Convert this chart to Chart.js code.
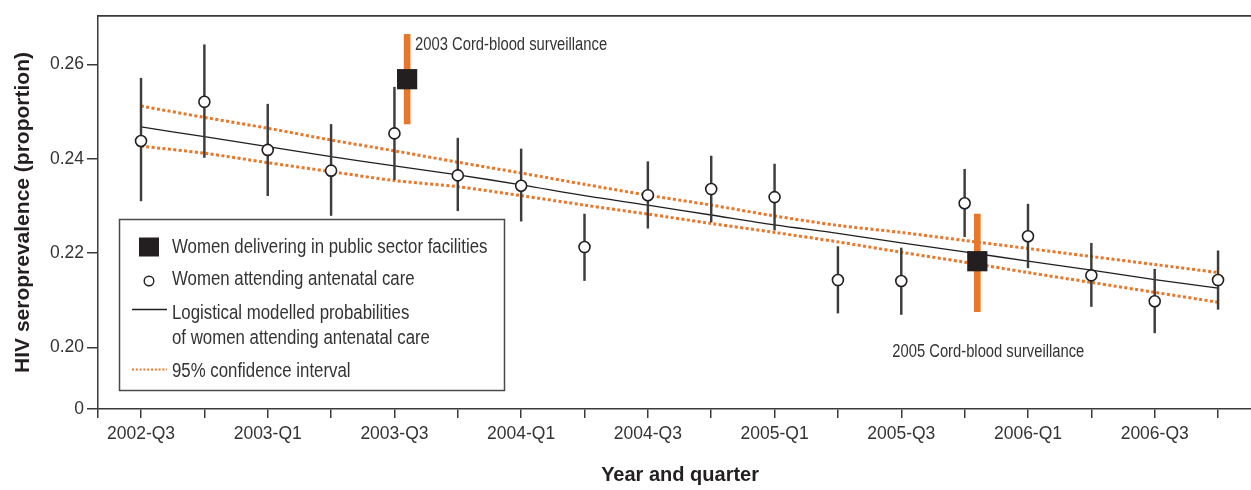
<!DOCTYPE html>
<html>
<head>
<meta charset="utf-8">
<script src="https://cdn.jsdelivr.net/npm/chart.js@4.4.1/dist/chart.umd.min.js"></script>
<style>
  html, body { margin: 0; padding: 0; background: #ffffff; }
  canvas { display: block; }
</style>
</head>
<body>
<canvas id="chart" width="1251" height="490"></canvas>
<script>
// ---------------- data ----------------
const quarters = [
  '2002-Q3', '2002-Q4',
  '2003-Q1', '2003-Q2', '2003-Q3', '2003-Q4',
  '2004-Q1', '2004-Q2', '2004-Q3', '2004-Q4',
  '2005-Q1', '2005-Q2', '2005-Q3', '2005-Q4',
  '2006-Q1', '2006-Q2', '2006-Q3', '2006-Q4'
];
// Women attending antenatal care (point estimate, lower and upper bounds)
const ancValues = [0.2438, 0.2521, 0.2419, 0.2375, 0.2454, 0.2365, 0.2343, 0.2213, 0.2323,
                   0.2336, 0.2319, 0.2143, 0.2141, 0.2306, 0.2236, 0.2153, 0.2098, 0.2143];
const ancLow    = [0.2311, 0.2403, 0.2322, 0.2280, 0.2356, 0.2290, 0.2268, 0.2142, 0.2253,
                   0.2266, 0.2249, 0.2073, 0.2070, 0.2235, 0.2169, 0.2087, 0.2031, 0.2081];
const ancHigh   = [0.2571, 0.2642, 0.2516, 0.2473, 0.2552, 0.2444, 0.2421, 0.2283, 0.2394,
                   0.2406, 0.2389, 0.2214, 0.2211, 0.2378, 0.2304, 0.2221, 0.2166, 0.2205];
// Logistical modelled probabilities and 95% confidence interval
const modelValues = [0.2468, 0.2447, 0.2426, 0.2405, 0.2385, 0.2366, 0.2345, 0.2322, 0.2302,
                     0.2281, 0.2260, 0.2242, 0.2222, 0.2203, 0.2183, 0.2164, 0.2144, 0.2126];
const ciUpper = [0.2512, 0.2488, 0.2465, 0.2440, 0.2417, 0.2393, 0.2370, 0.2346, 0.2323,
                 0.2302, 0.2279, 0.2259, 0.2244, 0.2227, 0.2210, 0.2193, 0.2176, 0.2159];
const ciLower = [0.2427, 0.2412, 0.2392, 0.2373, 0.2354, 0.2341, 0.2322, 0.2302, 0.2283,
                 0.2263, 0.2244, 0.2224, 0.2202, 0.2181, 0.2159, 0.2138, 0.2117, 0.2096];
// Women delivering in public sector facilities (cord-blood surveillance)
const cordPositions = [4.2, 13.2];          // in quarter units from 2002-Q3
const cordValues = [0.2569, 0.2183];
const cordLow    = [0.2474, 0.2076];
const cordHigh   = [0.2664, 0.2283];
const cordLabels = ['2003 Cord-blood surveillance', '2005 Cord-blood surveillance'];
// Axis
const yTickValues = [0.20, 0.22, 0.24, 0.26];
const yBreakValue = 0.18696;   // broken axis: bottom of axis labelled "0"
const yMaxValue = 0.2703;
const xMinValue = -0.679;
const xMaxValue = 17.52;

// ---------------- style ----------------
const ORANGE = '#e8772a';
const DARK = '#231f20';
const AXIS = '#3a3a3a';
const TEXT = '#333333';
const SANS = "'Liberation Sans', Arial, sans-serif";
const CONDENSE = 0.82;   // horizontal squeeze to imitate the condensed face

const pts = (arr) => arr.map((v, i) => ({ x: i, y: v }));

const datasets = [
  {
    type: 'scatter', label: 'Women attending antenatal care',
    data: pts(ancValues),
    pointStyle: 'circle', pointRadius: 5.5, pointHoverRadius: 5.5,
    pointBackgroundColor: '#ffffff', pointBorderColor: DARK, pointBorderWidth: 1.6,
    showLine: false, order: 0
  },
  {
    type: 'scatter', label: 'Women delivering in public sector facilities',
    data: cordPositions.map((x, i) => ({ x: x, y: cordValues[i] })),
    pointStyle: 'rect', pointRadius: 14.3, pointHoverRadius: 14.3,
    pointBackgroundColor: DARK, pointBorderColor: DARK, pointBorderWidth: 0,
    showLine: false, order: 1
  },
  {
    type: 'bar', label: 'Cord-blood range',
    data: cordPositions.map((x, i) => ({ x: x, y: [cordLow[i], cordHigh[i]] })),
    backgroundColor: ORANGE, barThickness: 6, grouped: false, order: 2
  },
  {
    type: 'bar', label: 'ANC range',
    data: ancLow.map((lo, i) => ({ x: i, y: [lo, ancHigh[i]] })),
    backgroundColor: '#3d3d3d', barThickness: 1.8, grouped: false, order: 3
  },
  {
    type: 'line', label: 'Logistical modelled probabilities of women attending antenatal care',
    data: pts(modelValues),
    borderColor: DARK, borderWidth: 1.3, pointRadius: 0, tension: 0.3, order: 4
  },
  {
    type: 'line', label: '95% confidence interval',
    data: pts(ciUpper),
    borderColor: ORANGE, borderWidth: 3, borderDash: [3, 2.4], pointRadius: 0, tension: 0.3, order: 5
  },
  {
    type: 'line', label: '95% confidence interval (lower)',
    data: pts(ciLower),
    borderColor: ORANGE, borderWidth: 3, borderDash: [3, 2.4], pointRadius: 0, tension: 0.3, order: 5
  }
];

function condensedText(ctx, text, x, y) {
  ctx.save();
  ctx.translate(x, y);
  ctx.scale(CONDENSE, 1);
  ctx.fillText(text, 0, 0);
  ctx.restore();
}

// annotations and boxed legend
const overlayPlugin = {
  id: 'overlay',
  afterDatasetsDraw(chart) {
    const ctx = chart.ctx;
    const xs = chart.scales.x, ys = chart.scales.y;
    ctx.save();
    ctx.fillStyle = TEXT;
    ctx.font = '18px ' + SANS;
    ctx.textBaseline = 'alphabetic';
    ctx.textAlign = 'left';
    // 2003 label: beside top of orange bar
    let px = xs.getPixelForValue(cordPositions[0]);
    let py = ys.getPixelForValue(cordHigh[0]);
    condensedText(ctx, cordLabels[0], px + 8, py + 16);
    // 2005 label: below the orange bar
    px = xs.getPixelForValue(cordPositions[1]);
    py = ys.getPixelForValue(cordLow[1]);
    condensedText(ctx, cordLabels[1], px - 85, py + 45);
    ctx.restore();
  },
  afterDraw(chart) {
    const ctx = chart.ctx;
    const ds = chart.data.datasets;
    const bx = 119, by = 219, bw = 385, bh = 171;
    ctx.save();
    ctx.fillStyle = '#ffffff';
    ctx.fillRect(bx, by, bw, bh);
    ctx.strokeStyle = '#4a4a4a';
    ctx.lineWidth = 1.5;
    ctx.strokeRect(bx + 0.5, by + 0.5, bw, bh);

    const tx = 172;
    ctx.font = '20.5px ' + SANS;
    ctx.textAlign = 'left';
    ctx.textBaseline = 'alphabetic';

    // square
    ctx.fillStyle = ds[1].pointBackgroundColor;
    ctx.fillRect(139, 237.5, 20, 19);
    ctx.fillStyle = TEXT;
    condensedText(ctx, ds[1].label, tx, 253);

    // circle
    ctx.beginPath();
    ctx.arc(149, 281, 4.8, 0, Math.PI * 2);
    ctx.fillStyle = '#ffffff';
    ctx.fill();
    ctx.strokeStyle = ds[0].pointBorderColor;
    ctx.lineWidth = 1.4;
    ctx.stroke();
    ctx.fillStyle = TEXT;
    condensedText(ctx, ds[0].label, tx, 284.5);

    // solid line
    ctx.beginPath();
    ctx.moveTo(132, 309.5);
    ctx.lineTo(167, 309.5);
    ctx.strokeStyle = ds[4].borderColor;
    ctx.lineWidth = 1.3;
    ctx.stroke();
    condensedText(ctx, 'Logistical modelled probabilities', tx, 319);
    condensedText(ctx, 'of women attending antenatal care', tx, 343.5);

    // dotted line
    ctx.beginPath();
    ctx.setLineDash([2, 1.8]);
    ctx.moveTo(132, 369.5);
    ctx.lineTo(167, 369.5);
    ctx.strokeStyle = ds[5].borderColor;
    ctx.lineWidth = 2;
    ctx.stroke();
    ctx.setLineDash([]);
    condensedText(ctx, ds[5].label, tx, 377);
    ctx.restore();
  }
};

new Chart(document.getElementById('chart'), {
  type: 'line',
  data: { datasets: datasets },
  plugins: [overlayPlugin],
  options: {
    responsive: false,
    animation: false,
    devicePixelRatio: 1,
    layout: { autoPadding: false, padding: { top: 16, left: 0, right: 0, bottom: 0 } },
    plugins: {
      legend: { display: false },
      tooltip: { enabled: false }
    },
    scales: {
      x: {
        type: 'linear', position: 'bottom',
        min: xMinValue, max: xMaxValue,
        offset: false,
        afterBuildTicks: (s) => {
          const t = [{ value: xMinValue }];
          quarters.forEach((q, i) => t.push({ value: i }));
          s.ticks = t;
        },
        afterFit: (s) => { s.height = 81; },
        ticks: {
          autoSkip: false, maxRotation: 0, minRotation: 0, padding: 6,
          color: TEXT, font: { family: SANS, size: 17.5 },
          callback: (v) => (Number.isInteger(v) && v % 2 === 0) ? quarters[v] : ''
        },
        grid: { display: true, drawOnChartArea: false, drawTicks: true, tickLength: 9,
                color: AXIS, lineWidth: 1.5, offset: false },
        border: { display: true, color: AXIS, width: 1.5 },
        title: {
          display: true, text: '\u00a0\u00a0Year and quarter', color: DARK,
          font: { family: SANS, size: 20, weight: 'bold' },
          padding: { top: 0, bottom: 3 }
        }
      },
      xTop: {
        type: 'linear', position: 'top',
        min: xMinValue, max: xMaxValue,
        afterFit: (s) => { s.height = 0; },
        ticks: { display: false },
        grid: { display: false, drawTicks: false },
        border: { display: true, color: AXIS, width: 1.8 }
      },
      y: {
        type: 'linear', position: 'left',
        min: yBreakValue, max: yMaxValue,
        afterBuildTicks: (s) => {
          s.ticks = [yBreakValue].concat(yTickValues).map(v => ({ value: v }));
        },
        afterFit: (s) => { s.width = 98; },
        ticks: {
          padding: 3, color: TEXT, font: { family: SANS, size: 17.5 },
          callback: (v) => Math.abs(v - yBreakValue) < 1e-6 ? '0' : v.toFixed(2)
        },
        grid: { display: true, drawOnChartArea: false, drawTicks: true, tickLength: 11,
                color: AXIS, lineWidth: 1.5 },
        border: { display: true, color: AXIS, width: 1.5 },
        title: {
          display: true, text: 'HIV seroprevalence (proportion)', color: DARK,
          font: { family: SANS, size: 21, weight: 'bold' },
          padding: { top: 11, bottom: 0 }
        }
      }
    }
  }
});
</script>
</body>
</html>
